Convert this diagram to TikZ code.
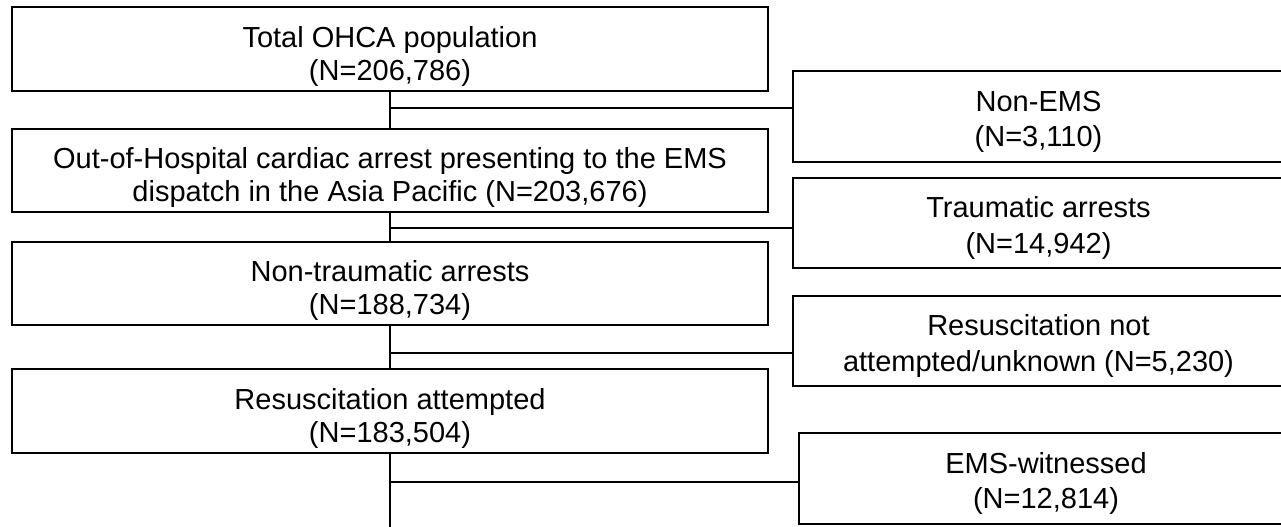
\documentclass[tikz,border=0pt]{standalone}
\usepackage{fontspec}
\setmainfont{Liberation Sans}
\newcommand{\lowl}{\rule{0pt}{26.5pt}}
\newcommand{\lowr}{\rule{0pt}{23pt}}

\begin{document}
\begin{tikzpicture}[x=0.75pt,y=-0.75pt,
    every node/.style={font=\fontsize{21.75pt}{24.75pt}\selectfont, align=center},
    every path/.style={line width=1.3pt},
    leftbox/.style={draw, inner sep=0pt, minimum width=567pt, minimum height=62.6pt},
    rightbox/.style={draw, inner sep=0pt, minimum width=368.25pt, minimum height=67.8pt,
      font=\fontsize{21.75pt}{26.5pt}\selectfont}]
  \useasboundingbox (0,0) rectangle (1281,526);

  % Main column
  \node[leftbox] (total) at (390,49) {\lowl Total OHCA population\\(N=206,786)};
  \node[leftbox] (ohca) at (390,170.5) {\lowl Out-of-Hospital cardiac arrest presenting to the EMS\\dispatch in the Asia Pacific (N=203,676)};
  \node[leftbox] (nontrauma) at (390,283.5) {\lowl Non-traumatic arrests\\(N=188,734)};
  \node[leftbox] (attempted) at (390,411) {\lowl Resuscitation attempted\\(N=183,504)};
  \coordinate (end) at (390,530);

  % Exclusions
  \node[rightbox] (nonems) at (1038.5,116.5) {\lowr Non-EMS\\(N=3,110)};
  \node[rightbox] (trauma) at (1038.5,223) {\lowr Traumatic arrests\\(N=14,942)};
  \node[rightbox] (notattempted) at (1038.5,341) {\lowr Resuscitation not\\attempted/unknown (N=5,230)};
  \node[rightbox, minimum width=370.5pt] (witnessed) at (1046,478.5) {\lowr EMS-witnessed\\(N=12,814)};

  \draw (total) -- (ohca);
  \draw (ohca) -- (nontrauma);
  \draw (nontrauma) -- (attempted);
  \draw (attempted) -- (end);

  % Branches
  \coordinate (b1) at (390,108);
  \coordinate (b2) at (390,228);
  \coordinate (b3) at (390,353);
  \coordinate (b4) at (390,482);
  \draw (b1) -- (b1 -| nonems.west);
  \draw (b2) -- (b2 -| trauma.west);
  \draw (b3) -- (b3 -| notattempted.west);
  \draw (b4) -- (b4 -| witnessed.west);
\end{tikzpicture}
\end{document}
